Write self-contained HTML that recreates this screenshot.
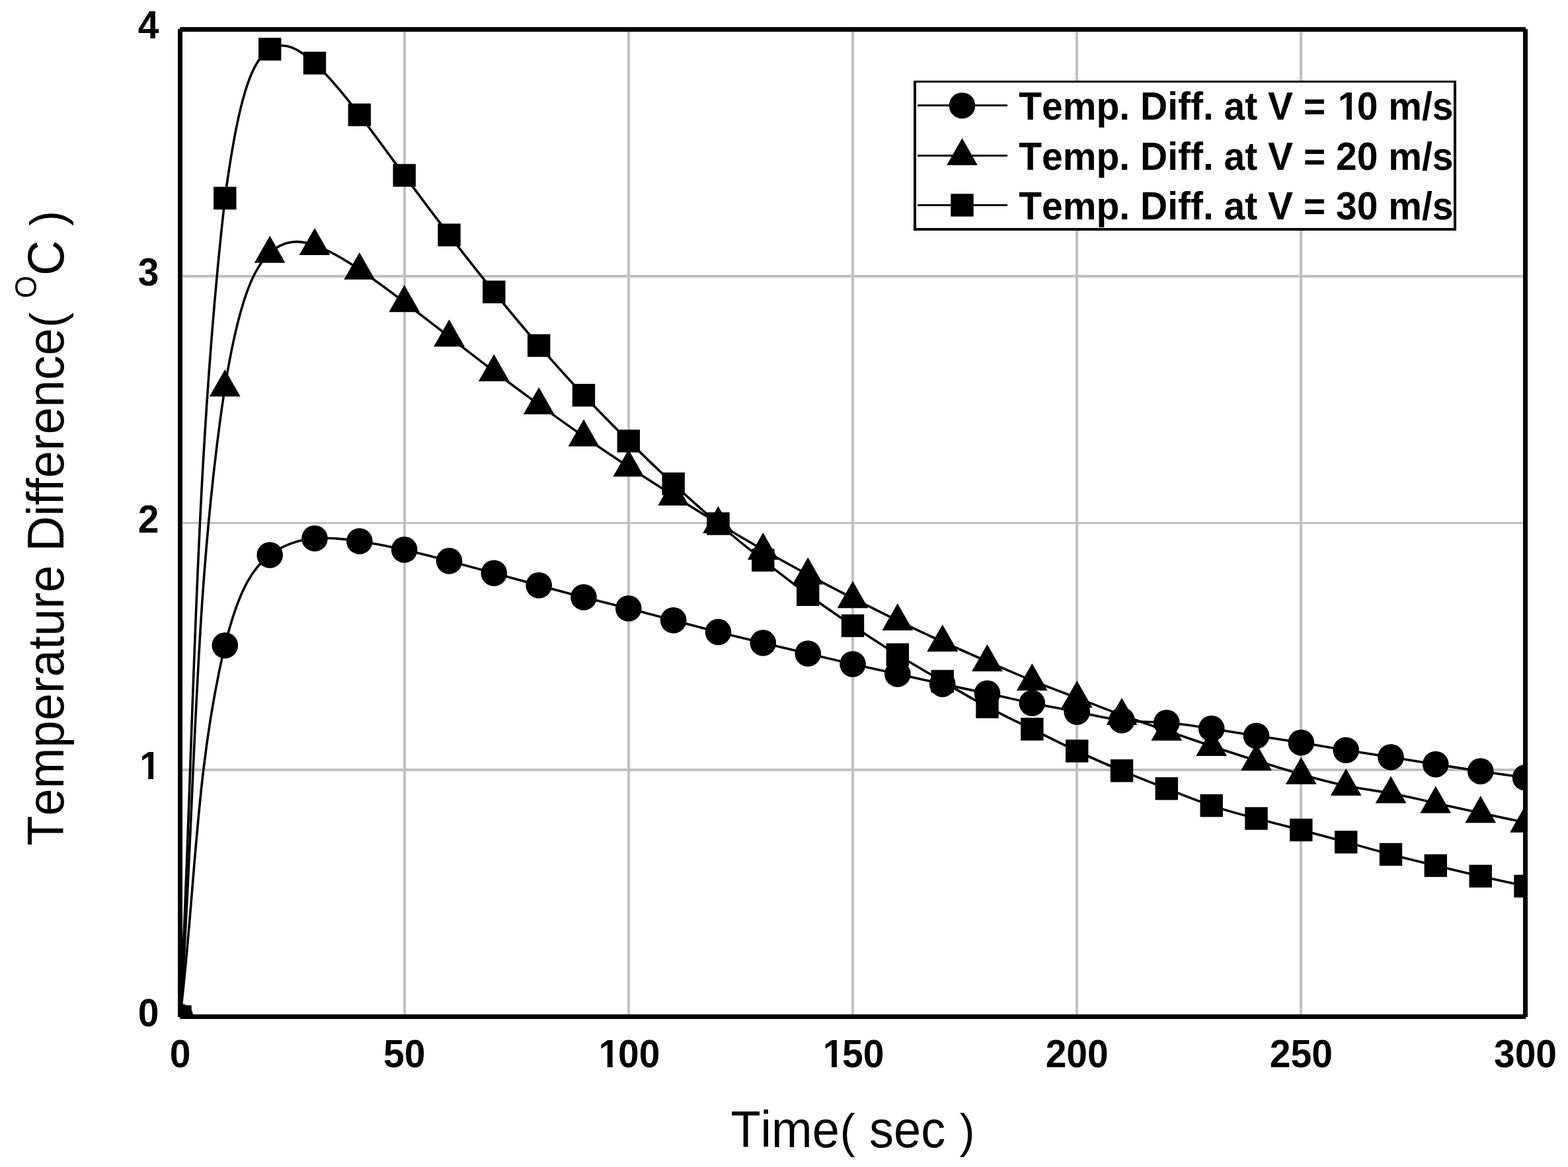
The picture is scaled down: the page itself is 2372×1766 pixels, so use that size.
<!DOCTYPE html>
<html lang="en"><head><meta charset="utf-8"><title>Temperature Difference vs Time</title>
<style>
html,body{margin:0;padding:0;background:#fff;}
body{width:2372px;height:1766px;overflow:hidden;}
svg{display:block;}
text{font-family:"Liberation Sans",sans-serif;fill:#000;font-kerning:none;font-variant-ligatures:none;white-space:pre;}
.tick,.leg{font-size:57px;font-weight:bold;}
.axl{font-size:74px;}
.sup{font-size:44px;}
.grid{stroke:#c0c0c0;stroke-width:4;shape-rendering:crispEdges;}
.curve{fill:none;stroke:#000;stroke-width:3.6;stroke-linejoin:round;}
.mk{fill:#000;}
</style></head><body>
<svg width="2372" height="1766" viewBox="0 0 2372 1766">
<rect x="0" y="0" width="2372" height="1766" fill="#ffffff"/>
<defs><clipPath id="pc"><rect x="276" y="48" width="2028" height="1487"/></clipPath></defs>

<g class="grid">
<line x1="612" y1="48" x2="612" y2="1535"/>
<line x1="951" y1="48" x2="951" y2="1535"/>
<line x1="1290" y1="48" x2="1290" y2="1535"/>
<line x1="1629" y1="48" x2="1629" y2="1535"/>
<line x1="1968" y1="48" x2="1968" y2="1535"/>
<line x1="276" y1="1165" x2="2304" y2="1165"/>
<line x1="276" y1="791.5" x2="2304" y2="791.5" stroke-width="3"/>
<line x1="276" y1="418" x2="2304" y2="418"/>
</g>
<g clip-path="url(#pc)">
<path class="curve" d="M272.50,1538.50 C295.46,1351.23 295.44,1163.97 340.33,976.70 C362.94,885.16 385.56,857.13 408.17,840.00 C430.78,822.87 453.39,816.63 476.00,814.80 C498.61,812.97 521.22,815.54 543.83,819.00 C566.44,822.46 589.06,826.80 611.67,831.90 C634.28,837.00 656.89,842.86 679.50,848.90 C702.11,854.94 724.72,861.14 747.33,867.30 C769.94,873.46 792.56,879.56 815.17,885.70 C837.78,891.84 860.39,898.03 883.00,903.80 C905.61,909.57 928.22,914.93 950.83,920.70 C973.44,926.47 996.06,932.64 1018.67,938.70 C1041.28,944.76 1063.89,950.71 1086.50,956.40 C1109.11,962.09 1131.72,967.52 1154.33,972.90 C1176.94,978.28 1199.56,983.60 1222.17,989.00 C1244.78,994.40 1267.39,999.88 1290.00,1005.00 C1312.61,1010.12 1335.22,1014.87 1357.83,1019.90 C1380.44,1024.93 1403.06,1030.22 1425.67,1035.10 C1448.28,1039.98 1470.89,1044.44 1493.50,1049.30 C1516.11,1054.16 1538.72,1059.42 1561.33,1064.00 C1583.94,1068.58 1606.56,1072.49 1629.17,1077.20 C1651.78,1081.91 1674.39,1087.43 1697.00,1090.00 C1719.61,1092.57 1742.22,1092.21 1764.83,1093.80 C1787.44,1095.39 1810.06,1098.94 1832.67,1102.60 C1855.28,1106.26 1877.89,1110.02 1900.50,1113.50 C1923.11,1116.98 1945.72,1120.17 1968.33,1123.80 C1990.94,1127.43 2013.56,1131.49 2036.17,1135.20 C2058.78,1138.91 2081.39,1142.28 2104.00,1145.80 C2126.61,1149.32 2149.22,1152.99 2171.83,1156.60 C2194.44,1160.21 2217.06,1163.74 2239.67,1167.10 C2262.28,1170.46 2284.89,1173.63 2307.50,1176.80"/>
<path class="curve" d="M272.50,1538.50 C295.70,1220.67 291.99,902.83 340.33,585.00 C362.94,446.97 385.56,403.68 408.17,382.80 C430.78,361.92 453.39,363.43 476.00,371.10 C498.61,378.77 521.22,392.59 543.83,407.90 C566.44,423.21 589.06,440.00 611.67,457.20 C634.28,474.40 656.89,492.01 679.50,509.60 C702.11,527.19 724.72,544.78 747.33,561.90 C769.94,579.02 792.56,595.69 815.17,612.10 C837.78,628.51 860.39,644.67 883.00,660.40 C905.61,676.13 928.22,691.43 950.83,706.30 C973.44,721.17 996.06,735.62 1018.67,749.90 C1041.28,764.18 1063.89,778.28 1086.50,792.00 C1109.11,805.72 1131.72,819.07 1154.33,832.00 C1176.94,844.93 1199.56,857.43 1222.17,869.60 C1244.78,881.77 1267.39,893.62 1290.00,905.20 C1312.61,916.78 1335.22,928.10 1357.83,939.10 C1380.44,950.10 1403.06,960.77 1425.67,971.00 C1448.28,981.23 1470.89,991.02 1493.50,1000.90 C1516.11,1010.78 1538.72,1020.73 1561.33,1029.90 C1583.94,1039.07 1606.56,1047.45 1629.17,1056.10 C1651.78,1064.75 1674.39,1073.68 1697.00,1082.00 C1719.61,1090.32 1742.22,1098.02 1764.83,1105.80 C1787.44,1113.58 1810.06,1121.43 1832.67,1129.00 C1855.28,1136.57 1877.89,1143.86 1900.50,1151.00 C1923.11,1158.14 1945.72,1165.12 1968.33,1171.70 C1990.94,1178.28 2013.56,1184.46 2036.17,1189.00 C2058.78,1193.54 2081.39,1196.43 2104.00,1200.60 C2126.61,1204.77 2149.22,1210.23 2171.83,1215.40 C2194.44,1220.57 2217.06,1225.46 2239.67,1230.30 C2262.28,1235.14 2284.89,1239.92 2307.50,1244.70"/>
<path class="curve" d="M272.50,1538.50 C293.52,1125.63 293.43,712.77 340.33,299.90 C362.94,128.65 385.56,87.89 408.17,74.40 C430.78,60.91 453.39,74.68 476.00,95.50 C498.61,116.32 521.22,144.20 543.83,173.80 C566.44,203.40 589.06,234.71 611.67,265.40 C634.28,296.09 656.89,326.16 679.50,355.60 C702.11,385.04 724.72,413.86 747.33,441.80 C769.94,469.74 792.56,496.82 815.17,522.90 C837.78,548.98 860.39,574.07 883.00,598.10 C905.61,622.13 928.22,645.11 950.83,667.40 C973.44,689.69 996.06,711.29 1018.67,732.20 C1041.28,753.11 1063.89,773.33 1086.50,792.50 C1109.11,811.67 1131.72,829.81 1154.33,847.70 C1176.94,865.59 1199.56,883.25 1222.17,899.80 C1244.78,916.35 1267.39,931.80 1290.00,946.90 C1312.61,962.00 1335.22,976.77 1357.83,990.70 C1380.44,1004.63 1403.06,1017.74 1425.67,1031.00 C1448.28,1044.26 1470.89,1057.67 1493.50,1069.70 C1516.11,1081.73 1538.72,1092.37 1561.33,1103.40 C1583.94,1114.43 1606.56,1125.86 1629.17,1136.50 C1651.78,1147.14 1674.39,1156.98 1697.00,1166.30 C1719.61,1175.62 1742.22,1184.43 1764.83,1193.40 C1787.44,1202.37 1810.06,1211.51 1832.67,1219.10 C1855.28,1226.69 1877.89,1232.75 1900.50,1238.60 C1923.11,1244.45 1945.72,1250.11 1968.33,1256.00 C1990.94,1261.89 2013.56,1268.01 2036.17,1274.30 C2058.78,1280.59 2081.39,1287.03 2104.00,1293.00 C2126.61,1298.97 2149.22,1304.46 2171.83,1309.90 C2194.44,1315.34 2217.06,1320.73 2239.67,1325.90 C2262.28,1331.07 2284.89,1336.04 2307.50,1341.00"/>
<g class="mk">
<circle cx="272.5" cy="1538.5" r="19.8"/>
<circle cx="340.3" cy="976.7" r="19.8"/>
<circle cx="408.2" cy="840.0" r="19.8"/>
<circle cx="476.0" cy="814.8" r="19.8"/>
<circle cx="543.8" cy="819.0" r="19.8"/>
<circle cx="611.7" cy="831.9" r="19.8"/>
<circle cx="679.5" cy="848.9" r="19.8"/>
<circle cx="747.3" cy="867.3" r="19.8"/>
<circle cx="815.2" cy="885.7" r="19.8"/>
<circle cx="883.0" cy="903.8" r="19.8"/>
<circle cx="950.8" cy="920.7" r="19.8"/>
<circle cx="1018.7" cy="938.7" r="19.8"/>
<circle cx="1086.5" cy="956.4" r="19.8"/>
<circle cx="1154.3" cy="972.9" r="19.8"/>
<circle cx="1222.2" cy="989.0" r="19.8"/>
<circle cx="1290.0" cy="1005.0" r="19.8"/>
<circle cx="1357.8" cy="1019.9" r="19.8"/>
<circle cx="1425.7" cy="1035.1" r="19.8"/>
<circle cx="1493.5" cy="1049.3" r="19.8"/>
<circle cx="1561.3" cy="1064.0" r="19.8"/>
<circle cx="1629.2" cy="1077.2" r="19.8"/>
<circle cx="1697.0" cy="1090.0" r="19.8"/>
<circle cx="1764.8" cy="1093.8" r="19.8"/>
<circle cx="1832.7" cy="1102.6" r="19.8"/>
<circle cx="1900.5" cy="1113.5" r="19.8"/>
<circle cx="1968.3" cy="1123.8" r="19.8"/>
<circle cx="2036.2" cy="1135.2" r="19.8"/>
<circle cx="2104.0" cy="1145.8" r="19.8"/>
<circle cx="2171.8" cy="1156.6" r="19.8"/>
<circle cx="2239.7" cy="1167.1" r="19.8"/>
<circle cx="2307.5" cy="1176.8" r="19.8"/>
<polygon points="272.5,1512.5 295.9,1553.5 249.1,1553.5"/>
<polygon points="340.3,559.0 363.7,600.0 316.9,600.0"/>
<polygon points="408.2,356.8 431.6,397.8 384.8,397.8"/>
<polygon points="476.0,345.1 499.4,386.1 452.6,386.1"/>
<polygon points="543.8,381.9 567.2,422.9 520.4,422.9"/>
<polygon points="611.7,431.2 635.1,472.2 588.3,472.2"/>
<polygon points="679.5,483.6 702.9,524.6 656.1,524.6"/>
<polygon points="747.3,535.9 770.7,576.9 723.9,576.9"/>
<polygon points="815.2,586.1 838.6,627.1 791.8,627.1"/>
<polygon points="883.0,634.4 906.4,675.4 859.6,675.4"/>
<polygon points="950.8,680.3 974.2,721.3 927.4,721.3"/>
<polygon points="1018.7,723.9 1042.1,764.9 995.3,764.9"/>
<polygon points="1086.5,766.0 1109.9,807.0 1063.1,807.0"/>
<polygon points="1154.3,806.0 1177.7,847.0 1130.9,847.0"/>
<polygon points="1222.2,843.6 1245.6,884.6 1198.8,884.6"/>
<polygon points="1290.0,879.2 1313.4,920.2 1266.6,920.2"/>
<polygon points="1357.8,913.1 1381.2,954.1 1334.4,954.1"/>
<polygon points="1425.7,945.0 1449.1,986.0 1402.3,986.0"/>
<polygon points="1493.5,974.9 1516.9,1015.9 1470.1,1015.9"/>
<polygon points="1561.3,1003.9 1584.7,1044.9 1537.9,1044.9"/>
<polygon points="1629.2,1030.1 1652.6,1071.1 1605.8,1071.1"/>
<polygon points="1697.0,1056.0 1720.4,1097.0 1673.6,1097.0"/>
<polygon points="1764.8,1079.8 1788.2,1120.8 1741.4,1120.8"/>
<polygon points="1832.7,1103.0 1856.1,1144.0 1809.3,1144.0"/>
<polygon points="1900.5,1125.0 1923.9,1166.0 1877.1,1166.0"/>
<polygon points="1968.3,1145.7 1991.7,1186.7 1944.9,1186.7"/>
<polygon points="2036.2,1163.0 2059.6,1204.0 2012.8,1204.0"/>
<polygon points="2104.0,1174.6 2127.4,1215.6 2080.6,1215.6"/>
<polygon points="2171.8,1189.4 2195.2,1230.4 2148.4,1230.4"/>
<polygon points="2239.7,1204.3 2263.1,1245.3 2216.3,1245.3"/>
<polygon points="2307.5,1218.7 2330.9,1259.7 2284.1,1259.7"/>
<rect x="255.3" y="1521.3" width="34.4" height="34.4"/>
<rect x="323.1" y="282.7" width="34.4" height="34.4"/>
<rect x="391.0" y="57.2" width="34.4" height="34.4"/>
<rect x="458.8" y="78.3" width="34.4" height="34.4"/>
<rect x="526.6" y="156.6" width="34.4" height="34.4"/>
<rect x="594.5" y="248.2" width="34.4" height="34.4"/>
<rect x="662.3" y="338.4" width="34.4" height="34.4"/>
<rect x="730.1" y="424.6" width="34.4" height="34.4"/>
<rect x="798.0" y="505.7" width="34.4" height="34.4"/>
<rect x="865.8" y="580.9" width="34.4" height="34.4"/>
<rect x="933.6" y="650.2" width="34.4" height="34.4"/>
<rect x="1001.5" y="715.0" width="34.4" height="34.4"/>
<rect x="1069.3" y="775.3" width="34.4" height="34.4"/>
<rect x="1137.1" y="830.5" width="34.4" height="34.4"/>
<rect x="1205.0" y="882.6" width="34.4" height="34.4"/>
<rect x="1272.8" y="929.7" width="34.4" height="34.4"/>
<rect x="1340.6" y="973.5" width="34.4" height="34.4"/>
<rect x="1408.5" y="1013.8" width="34.4" height="34.4"/>
<rect x="1476.3" y="1052.5" width="34.4" height="34.4"/>
<rect x="1544.1" y="1086.2" width="34.4" height="34.4"/>
<rect x="1612.0" y="1119.3" width="34.4" height="34.4"/>
<rect x="1679.8" y="1149.1" width="34.4" height="34.4"/>
<rect x="1747.6" y="1176.2" width="34.4" height="34.4"/>
<rect x="1815.5" y="1201.9" width="34.4" height="34.4"/>
<rect x="1883.3" y="1221.4" width="34.4" height="34.4"/>
<rect x="1951.1" y="1238.8" width="34.4" height="34.4"/>
<rect x="2019.0" y="1257.1" width="34.4" height="34.4"/>
<rect x="2086.8" y="1275.8" width="34.4" height="34.4"/>
<rect x="2154.6" y="1292.7" width="34.4" height="34.4"/>
<rect x="2222.5" y="1308.7" width="34.4" height="34.4"/>
<rect x="2290.3" y="1323.8" width="34.4" height="34.4"/>
</g></g>
<rect x="272.5" y="44.5" width="2035" height="1494" fill="none" stroke="#000" stroke-width="7" shape-rendering="crispEdges"/>
<rect x="269" y="41" width="3" height="3" fill="#fff" shape-rendering="crispEdges"/>
<rect x="2308" y="41" width="3" height="3" fill="#fff" shape-rendering="crispEdges"/>
<rect x="269" y="1539" width="3" height="3" fill="#fff" shape-rendering="crispEdges"/>
<rect x="2308" y="1539" width="3" height="3" fill="#fff" shape-rendering="crispEdges"/>
<text class="tick" transform="translate(272.5,1614.6) scale(1,1.05)" text-anchor="middle">0</text>
<text class="tick" transform="translate(611.7,1614.6) scale(1,1.05)" text-anchor="middle">50</text>
<text class="tick" transform="translate(903.3,1614.6) scale(1,1.05)" text-anchor="start"><tspan dx="2.3">1</tspan><tspan dx="-2.3">00</tspan></text>
<text class="tick" transform="translate(1242.4,1614.6) scale(1,1.05)" text-anchor="start"><tspan dx="2.3">1</tspan><tspan dx="-2.3">50</tspan></text>
<text class="tick" transform="translate(1629.2,1614.6) scale(1,1.05)" text-anchor="middle">200</text>
<text class="tick" transform="translate(1968.3,1614.6) scale(1,1.05)" text-anchor="middle">250</text>
<text class="tick" transform="translate(2307.5,1614.6) scale(1,1.05)" text-anchor="middle">300</text>
<text class="tick" transform="translate(240.5,1552.7) scale(1,1.05)" text-anchor="end">0</text>
<text class="tick" transform="translate(242.7,1179.2) scale(1,1.05)" text-anchor="end">1</text>
<text class="tick" transform="translate(240.5,805.7) scale(1,1.05)" text-anchor="end">2</text>
<text class="tick" transform="translate(240.5,432.2) scale(1,1.05)" text-anchor="end">3</text>
<text class="tick" transform="translate(240.5,58.0) scale(1,1.05)" text-anchor="end">4</text>
<text class="axl" transform="translate(1105.4,1736.4) scale(1,1.04)" text-anchor="start">Time<tspan font-size="69" dx="0.83">(</tspan><tspan dx="0.83"> sec </tspan><tspan font-size="69" dx="0.83">)</tspan></text>
<text class="axl" style="letter-spacing:0.08px" transform="translate(95.8,1279.7) rotate(-90) scale(1,1.04)">Temperature Difference<tspan font-size="69" dx="0.83">(</tspan><tspan dx="0.83"> </tspan><tspan class="sup" dy="-39">O</tspan><tspan dy="39">C </tspan><tspan font-size="69" dx="0.83">)</tspan></text>
<rect x="1382" y="122" width="821" height="227" fill="#000"/>
<rect x="1386" y="125" width="813" height="220" fill="#fff"/>
<line x1="1388" y1="159.5" x2="1524" y2="159.5" stroke="#000" stroke-width="3" shape-rendering="crispEdges"/>
<line x1="1388" y1="235.0" x2="1524" y2="235.0" stroke="#000" stroke-width="3" shape-rendering="crispEdges"/>
<line x1="1388" y1="310.5" x2="1524" y2="310.5" stroke="#000" stroke-width="3" shape-rendering="crispEdges"/>
<g class="mk">
<circle cx="1455.5" cy="159.8" r="19.8"/>
<polygon points="1455.5,209.0 1478.9,250.0 1432.1,250.0"/>
<rect x="1438.3" y="293.3" width="34.4" height="34.4"/>
</g>
<text class="leg" transform="translate(1541.3,181.2) scale(1,1.05)" text-anchor="start">Temp. Diff. at V = <tspan dx="2.7">1</tspan><tspan dx="-2.7">0 m/s</tspan></text>
<text class="leg" transform="translate(1541.3,256.7) scale(1,1.05)" text-anchor="start">Temp. Diff. at V = 20 m/s</text>
<text class="leg" transform="translate(1541.3,332.2) scale(1,1.05)" text-anchor="start">Temp. Diff. at V = 30 m/s</text>
<rect x="908.18" y="1607.90" width="10.65" height="7.6" fill="#fff"/>
<rect x="926.71" y="1607.90" width="10.12" height="7.6" fill="#fff"/>
<rect x="1247.35" y="1607.90" width="10.65" height="7.6" fill="#fff"/>
<rect x="1265.88" y="1607.90" width="10.12" height="7.6" fill="#fff"/>
<rect x="213.60" y="1172.50" width="10.65" height="7.6" fill="#fff"/>
<rect x="232.13" y="1172.50" width="10.12" height="7.6" fill="#fff"/>
<rect x="2026.38" y="174.50" width="10.65" height="7.6" fill="#fff"/>
<rect x="2044.91" y="174.50" width="10.12" height="7.6" fill="#fff"/>
</svg></body></html>
